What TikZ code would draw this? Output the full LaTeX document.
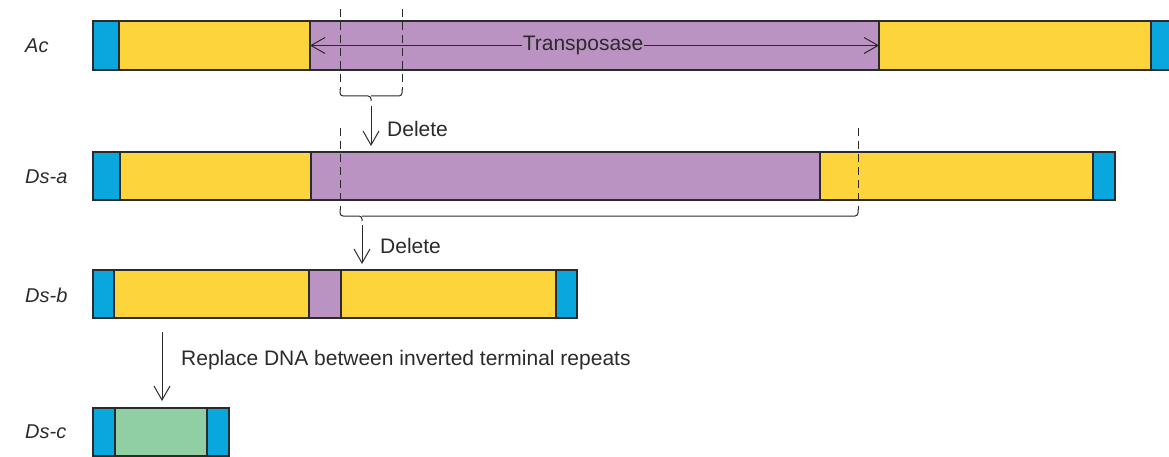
\documentclass[tikz,border=0pt]{standalone}
\usepackage{fontspec}
\setmainfont{Liberation Sans}
\usetikzlibrary{arrows.meta}
\definecolor{bluec}{HTML}{0AA7DE}
\definecolor{yellowc}{HTML}{FDD43C}
\definecolor{purplec}{HTML}{BB93C3}
\definecolor{greenc}{HTML}{90CFA4}
\definecolor{inkc}{HTML}{2B2B2B}
\begin{document}
\begin{tikzpicture}[x=1pt,y=-1pt,
  seg/.style={draw=inkc,line width=1.3pt,inner sep=0pt,outer sep=0pt,anchor=north west},
  lbl/.style={font=\fontsize{20}{24}\selectfont\itshape,text=inkc,anchor=west,inner sep=0pt},
  txt/.style={font=\fontsize{21}{25}\selectfont,text=inkc,inner sep=0pt},
  arr/.style={draw=inkc,line width=1pt,-{Straight Barb[length=14pt,width=16pt,line width=1pt]}},
  dsh/.style={draw=inkc,line width=1pt,dash pattern=on 8pt off 5pt},
  brc/.style={draw=inkc,line width=1pt,rounded corners=3pt}]
\useasboundingbox (0,0) rectangle (1169,457);
% Ac
\node[seg,fill=bluec,minimum width=26pt,minimum height=49pt] (acL) at (93,21) {};
\node[seg,fill=yellowc,minimum width=191pt,minimum height=49pt] (acY1) at (119,21) {};
\node[seg,fill=purplec,minimum width=569pt,minimum height=49pt] (acP) at (310,21) {};
\node[seg,fill=yellowc,minimum width=272pt,minimum height=49pt] (acY2) at (879,21) {};
\node[seg,fill=bluec,minimum width=26pt,minimum height=49pt] (acR) at (1151,21) {};
% Ds-a
\node[seg,fill=bluec,minimum width=27pt,minimum height=48pt] (daL) at (93,152) {};
\node[seg,fill=yellowc,minimum width=191pt,minimum height=48pt] (daY1) at (120,152) {};
\node[seg,fill=purplec,minimum width=509pt,minimum height=48pt] (daP) at (311,152) {};
\node[seg,fill=yellowc,minimum width=273pt,minimum height=48pt] (daY2) at (820,152) {};
\node[seg,fill=bluec,minimum width=22pt,minimum height=48pt] (daR) at (1093,152) {};
% Ds-b
\node[seg,fill=bluec,minimum width=21pt,minimum height=48pt] (dbL) at (93,270) {};
\node[seg,fill=yellowc,minimum width=195pt,minimum height=48pt] (dbY1) at (114,270) {};
\node[seg,fill=purplec,minimum width=32pt,minimum height=48pt] (dbP) at (309,270) {};
\node[seg,fill=yellowc,minimum width=215pt,minimum height=48pt] (dbY2) at (341,270) {};
\node[seg,fill=bluec,minimum width=21pt,minimum height=48pt] (dbR) at (556,270) {};
% Ds-c
\node[seg,fill=bluec,minimum width=22pt,minimum height=48pt] (dcL) at (93,408) {};
\node[seg,fill=greenc,minimum width=92pt,minimum height=48pt] (dcG) at (115,408) {};
\node[seg,fill=bluec,minimum width=22pt,minimum height=48pt] (dcR) at (207,408) {};
% labels
\node[lbl] (lAc) at (25,46) {Ac};
\node[lbl] (lDa) at (25,177) {Ds-a};
\node[lbl] (lDb) at (25,295) {Ds-b};
\node[lbl] (lDc) at (25,432) {Ds-c};
% transposase arrow
\draw[draw=inkc,line width=1pt,{Straight Barb[length=14pt,width=16pt,line width=1pt]}-{Straight Barb[length=14pt,width=16pt,line width=1pt]}]
  (acP.west) -- node[txt,pos=0.48,fill=purplec,inner xsep=1pt,inner ysep=2pt] (tr) {Transposase} (acP.east);
% first deletion
\coordinate (d1a) at (340,9);
\coordinate (d1b) at (402,9);
\draw[dsh] (d1a) -- (340,90);
\draw[dsh] (d1b) -- (402,90);
\draw[brc] (340,89) -- (340,96) -- (371,96) -- (371,101);
\draw[brc] (402,89) -- (402,96) -- (371,96);
\coordinate (a1s) at (371,106);
\coordinate (a1e) at (371,146);
\draw[arr] (a1s) -- (a1e);
\node[txt,anchor=west] (del1) at (387,129) {Delete};
% second deletion
\coordinate (d2a) at (340,128);
\coordinate (d2b) at (858,128);
\draw[dsh] (d2a) -- (340,210);
\draw[dsh] (d2b) -- (858,210);
\draw[brc] (340,209) -- (340,216) -- (362,216) -- (362,221);
\draw[brc] (858,209) -- (858,216) -- (362,216);
\coordinate (a2s) at (362,225);
\coordinate (a2e) at (362,264);
\draw[arr] (a2s) -- (a2e);
\node[txt,anchor=west] (del2) at (380,246) {Delete};
% replacement
\coordinate (a3s) at (162,332);
\coordinate (a3e) at (162,401);
\draw[arr] (a3s) -- (a3e);
\node[txt,anchor=west] (rep) at (181,360) {Replace DNA between inverted terminal repeats};
\end{tikzpicture}
\end{document}
